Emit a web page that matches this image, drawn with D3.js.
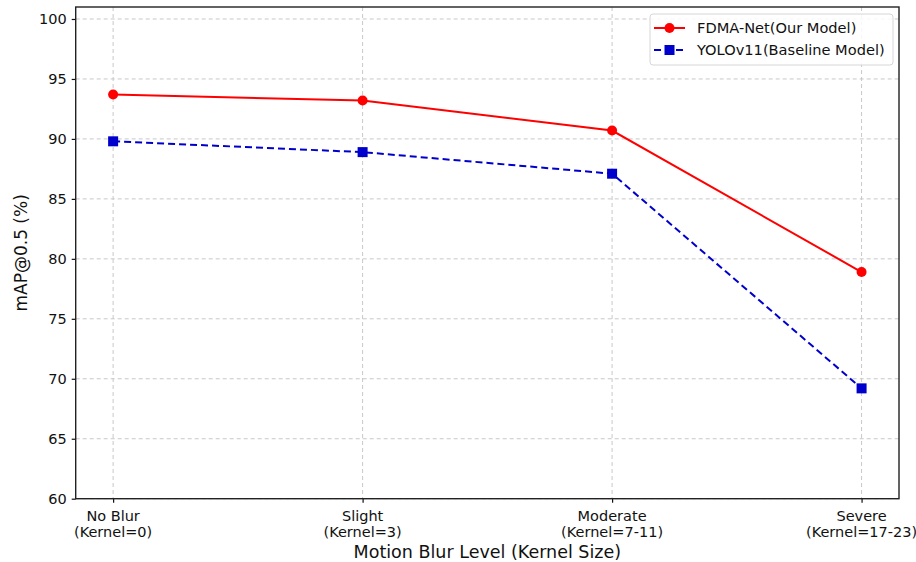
<!DOCTYPE html>
<html><head><meta charset="utf-8">
<script src="https://cdn.jsdelivr.net/npm/d3@7"></script>
<style>body{margin:0;background:#fff}svg{display:block}text{font-family:"DejaVu Sans",sans-serif}</style>
</head><body>
<svg id="c" width="916" height="562"></svg>
<script>
const categories = ["No Blur\n(Kernel=0)", "Slight\n(Kernel=3)", "Moderate\n(Kernel=7-11)", "Severe\n(Kernel=17-23)"];
const fdmaValues = [93.7, 93.2, 90.7, 78.9];
const yoloValues = [89.8, 88.9, 87.1, 69.2];
const yTicks = [60, 65, 70, 75, 80, 85, 90, 95, 100];
const seriesNames = ["FDMA-Net(Our Model)", "YOLOv11(Baseline Model)"];

const svg = d3.select("#c");
const L = 75.7, R = 899, T = 7, B = 498.7;
const x = d3.scaleLinear().domain([-0.15, 3.15]).range([L, R]);
const y = d3.scaleLinear().domain([60, 101]).range([B, T]);

// grid
const g = svg.append("g");
g.selectAll(".gx").data(categories).enter().append("line")
  .attr("x1", (d,i)=>x(i)).attr("x2", (d,i)=>x(i)).attr("y1", T).attr("y2", B)
  .attr("stroke", "#c8c8c8").attr("stroke-width", 1).attr("stroke-dasharray", "4,3");
g.selectAll(".gy").data(yTicks).enter().append("line")
  .attr("x1", L).attr("x2", R).attr("y1", d=>y(d)).attr("y2", d=>y(d))
  .attr("stroke", "#c8c8c8").attr("stroke-width", 1).attr("stroke-dasharray", "4,3");

// axes
const yAxis = d3.axisLeft(y).tickValues(yTicks).tickSize(4).tickPadding(5);
const ya = svg.append("g").attr("transform", `translate(${L},0)`).call(yAxis);
ya.select(".domain").remove();
ya.selectAll("text").attr("font-size", 14.5).attr("fill", "#111").attr("font-family", "DejaVu Sans");
ya.selectAll("line").attr("stroke", "#111").attr("stroke-width", 1.2);

const xAxis = d3.axisBottom(x).tickValues([0,1,2,3]).tickSize(4).tickFormat("");
const xa = svg.append("g").attr("transform", `translate(0,${B})`).call(xAxis);
xa.select(".domain").remove();
xa.selectAll("line").attr("stroke", "#111").attr("stroke-width", 1.2);
categories.forEach((c,i)=>{
  const lines = c.split("\n");
  const t = svg.append("text").attr("x", x(i)).attr("y", 520.5).attr("text-anchor","middle")
    .attr("font-size", 14.5).attr("fill","#111").attr("font-family","DejaVu Sans");
  lines.forEach((ln,j)=>t.append("tspan").attr("x", x(i)).attr("dy", j?16.2:0).text(ln));
});

// frame
svg.append("rect").attr("x", L).attr("y", T).attr("width", R-L).attr("height", B-T)
  .attr("fill","none").attr("stroke","#222").attr("stroke-width",1.4);

// labels
svg.append("text").attr("x", (L+R)/2).attr("y", 557.5).attr("text-anchor","middle")
  .attr("font-size", 17.5).attr("fill","#111").attr("font-family","DejaVu Sans")
  .text("Motion Blur Level (Kernel Size)");
svg.append("text").attr("transform", `translate(27,${(T+B)/2}) rotate(-90)`).attr("text-anchor","middle")
  .attr("font-size", 17).attr("fill","#111").text("mAP@0.5 (%)");

// lines
const line = d3.line().x((d,i)=>x(i)).y(d=>y(d));
svg.append("path").datum(fdmaValues).attr("d", line).attr("fill","none")
  .attr("stroke","#ff0000").attr("stroke-width",2);
svg.append("path").datum(yoloValues).attr("d", line).attr("fill","none")
  .attr("stroke","#0000cc").attr("stroke-width",2).attr("stroke-dasharray","7,4");
svg.selectAll(".m1").data(fdmaValues).enter().append("circle")
  .attr("cx",(d,i)=>x(i)).attr("cy",d=>y(d)).attr("r",5).attr("fill","#ff0000");
svg.selectAll(".m2").data(yoloValues).enter().append("rect")
  .attr("x",(d,i)=>x(i)-5).attr("y",d=>y(d)-5).attr("width",10).attr("height",10).attr("fill","#0000cc");

// legend
const lg = svg.append("g");
lg.append("rect").attr("x", 650).attr("y", 14).attr("width", 243).attr("height", 51).attr("rx", 3)
  .attr("fill","#fff").attr("fill-opacity",0.85).attr("stroke","#d6d6d6").attr("stroke-width",1);
const ly = [28, 50];
[["#ff0000", null, "circle"], ["#0000cc", "7,4", "rect"]].forEach((s,i)=>{
  lg.append("line").attr("x1", 654).attr("x2", 685).attr("y1", ly[i]).attr("y2", ly[i])
    .attr("stroke", s[0]).attr("stroke-width", 2).attr("stroke-dasharray", s[1]);
  if (s[2]==="circle") lg.append("circle").attr("cx",669.5).attr("cy",ly[i]).attr("r",5).attr("fill",s[0]);
  else lg.append("rect").attr("x",664.5).attr("y",ly[i]-5).attr("width",10).attr("height",10).attr("fill",s[0]);
  lg.append("text").attr("x", 697).attr("y", ly[i]+5).attr("font-size", 14.6).attr("fill","#111").text(seriesNames[i]);
});
</script>
</body></html>
